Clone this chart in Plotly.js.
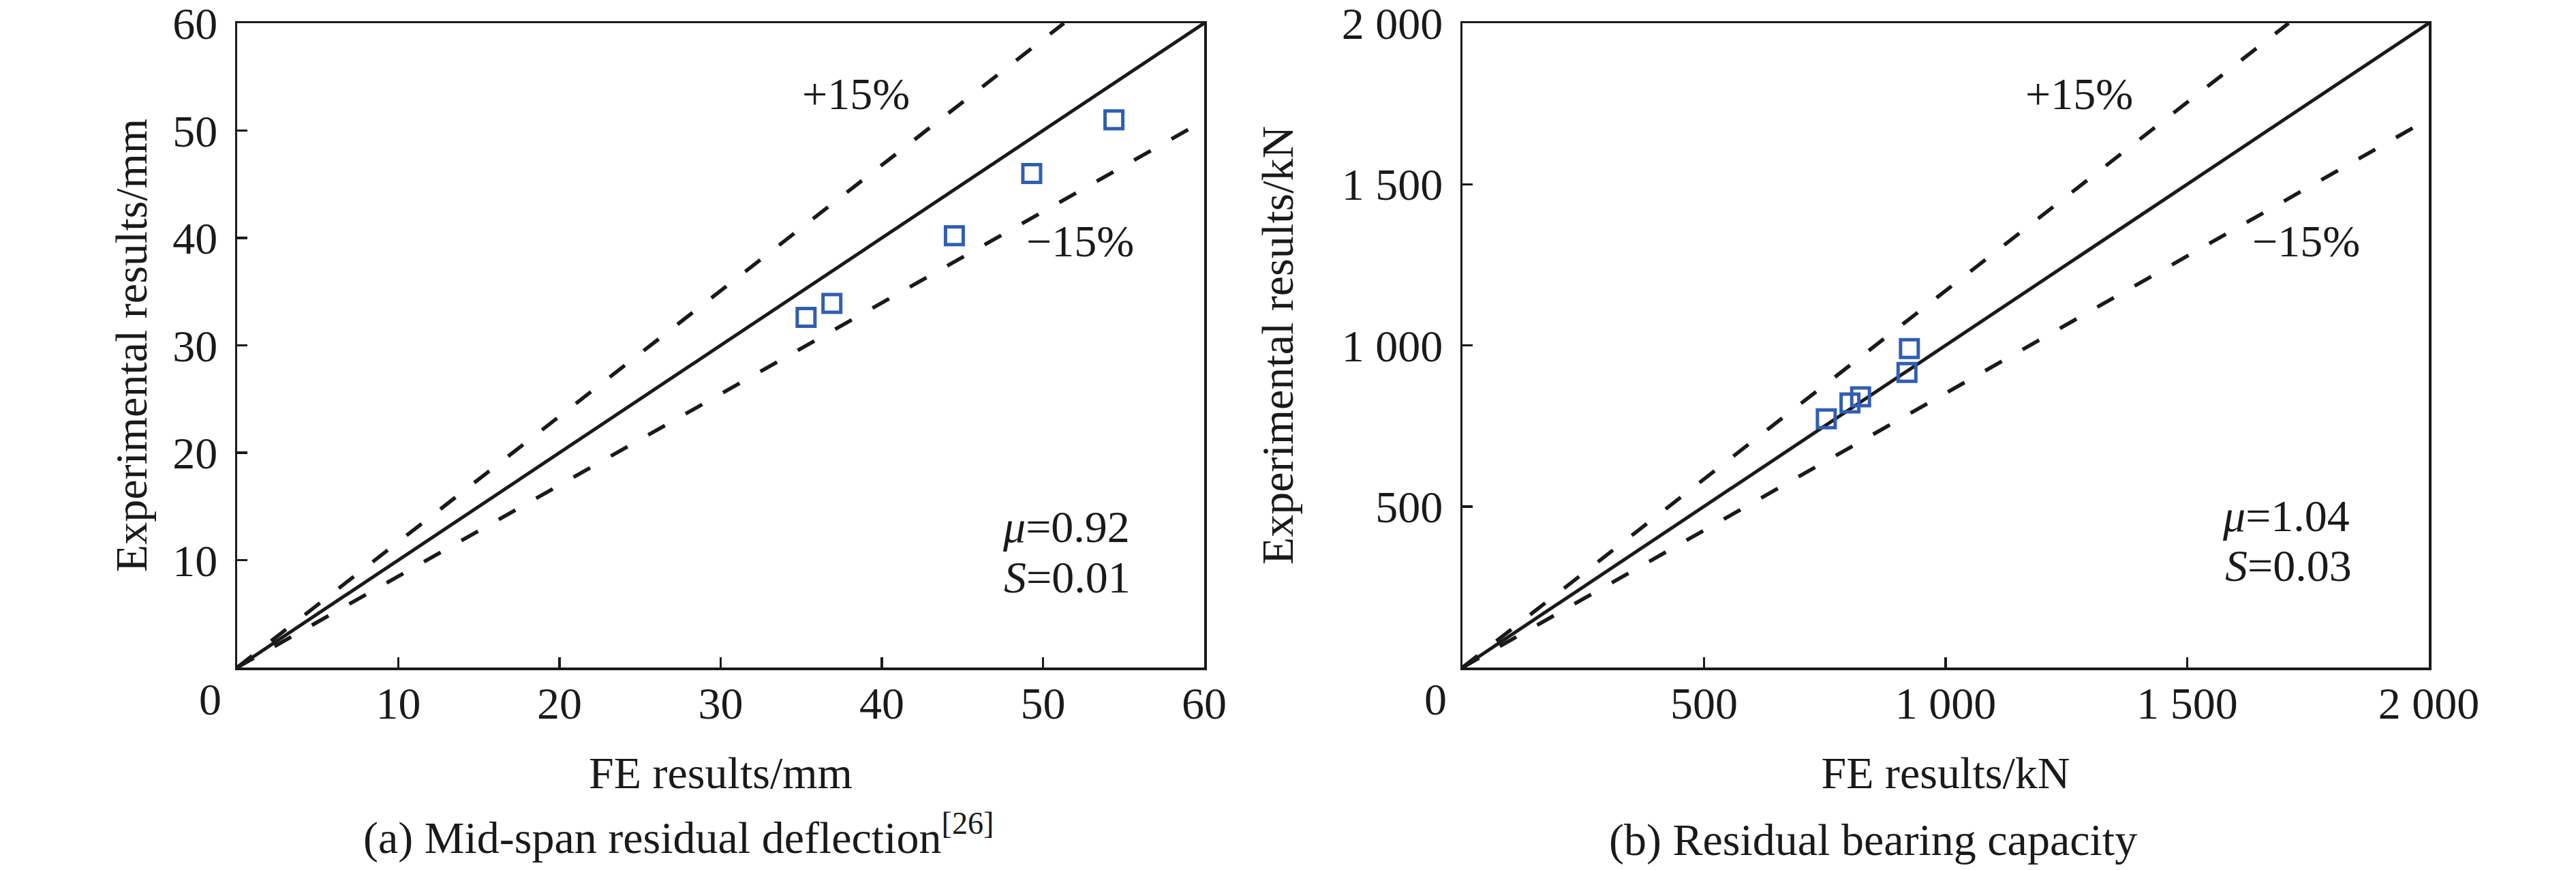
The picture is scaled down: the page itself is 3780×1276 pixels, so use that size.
<!DOCTYPE html>
<html>
<head>
<meta charset="utf-8">
<script src="https://cdn.plot.ly/plotly-3.0.1.min.js"></script>
<style>
  html, body { margin: 0; padding: 0; background: #fff; }
  #chart { width: 3780px; height: 1276px; }
</style>
</head>
<body>
<div id="chart"></div>
<script>
/******************** DATA ********************/
// (a) Mid-span residual deflection, mm
const feDeflection  = [35.3, 36.9, 44.5, 49.3, 54.4];
const expDeflection = [32.6, 33.9, 40.2, 46.0, 51.0];

// (b) Residual bearing capacity, kN
const feCapacity  = [753, 802, 824, 920, 925];
const expCapacity = [772, 821, 840, 916, 990];

// reference lines (1:1 and +/-15%), end points
const lineA     = { x: [0, 60],   y: [0, 60] };
const upperA    = { x: [0, 51.3], y: [0, 60] };
const lowerA    = { x: [0, 59.6], y: [0, 50.6] };
const lineB     = { x: [0, 2000], y: [0, 2000] };
const upperB    = { x: [0, 1710], y: [0, 2000] };
const lowerB    = { x: [0, 1985], y: [0, 1690] };

// tick labels
const ticksA      = [10, 20, 30, 40, 50, 60];
const tickTextA   = ["10", "20", "30", "40", "50", "60"];
const ticksB      = [500, 1000, 1500, 2000];
const tickTextB   = ["500", "1 000", "1 500", "2 000"];

/******************** STYLE ********************/
const FONT  = "Liberation Serif, Times New Roman, serif";
const INK   = "#1a1a1a";
const BLUE  = "#2f5fb3";
const FSIZE = 66;

function solid(line, xa, ya) {
  return { x: line.x, y: line.y, xaxis: xa, yaxis: ya, mode: "lines",
           line: { color: INK, width: 5 }, hoverinfo: "skip" };
}
function dashed(line, xa, ya) {
  return { x: line.x, y: line.y, xaxis: xa, yaxis: ya, mode: "lines",
           line: { color: INK, width: 5.5, dash: "28px,35px" }, hoverinfo: "skip" };
}
function points(xs, ys, xa, ya) {
  return { x: xs, y: ys, xaxis: xa, yaxis: ya, mode: "markers", type: "scatter",
           marker: { symbol: "square-open", size: 26, color: BLUE,
                     line: { color: BLUE, width: 5 } } };
}

function xAxis(domain, range, vals, text, title, anchor) {
  return {
    domain: domain, range: range, anchor: anchor,
    tickvals: vals, ticktext: text,
    ticks: "inside", ticklen: 15, tickwidth: 3.5, tickcolor: INK,
    ticklabelstandoff: -8, ticklabeloverflow: "allow",
    showline: true, linewidth: 3.5, linecolor: INK, mirror: true,
    showgrid: false, zeroline: false,
    tickfont: { family: FONT, size: FSIZE, color: INK },
    title: { text: title, standoff: 44, font: { family: FONT, size: FSIZE, color: INK } }
  };
}
function yAxis(domain, range, vals, text, title, anchor, standoff) {
  return {
    domain: domain, range: range, anchor: anchor,
    tickvals: vals, ticktext: text,
    ticks: "inside", ticklen: 15, tickwidth: 3.5, tickcolor: INK,
    ticklabelstandoff: 12, ticklabeloverflow: "allow",
    showline: true, linewidth: 3.5, linecolor: INK, mirror: true,
    showgrid: false, zeroline: false,
    tickfont: { family: FONT, size: FSIZE, color: INK },
    title: { text: title, standoff: standoff, font: { family: FONT, size: FSIZE, color: INK } }
  };
}

/******************** TRACES ********************/
const traces = [
  dashed(upperA, "x", "y"), dashed(lowerA, "x", "y"), solid(lineA, "x", "y"),
  points(feDeflection, expDeflection, "x", "y"),
  dashed(upperB, "x2", "y2"), dashed(lowerB, "x2", "y2"), solid(lineB, "x2", "y2"),
  points(feCapacity, expCapacity, "x2", "y2")
];

/******************** ANNOTATIONS ********************/
function note(text, x, y, xref, yref, anchor) {
  return { text: text, x: x, y: y, xref: xref, yref: yref, showarrow: false,
           xanchor: anchor || "center", yanchor: "middle",
           font: { family: FONT, size: FSIZE, color: INK } };
}

const annotations = [
  note("+15%", 38.4, 53.4, "x", "y"),
  note("\u221215%", 52.3, 39.7, "x", "y"),
  note("<i>\u03bc</i>=0.92", 47.4, 13.1, "x", "y", "left"),
  note("<i>S</i>=0.01", 47.5, 8.4, "x", "y", "left"),
  note("+15%", 1277, 1781, "x2", "y2"),
  note("\u221215%", 1746, 1324, "x2", "y2"),
  note("<i>\u03bc</i>=1.04", 1570, 471, "x2", "y2", "left"),
  note("<i>S</i>=0.03", 1575, 316, "x2", "y2", "left"),
  // shared origin labels
  note("0", 308 / 3780, (1276 - 1025) / 1276, "paper", "paper"),
  note("0", 2106 / 3780, (1276 - 1025) / 1276, "paper", "paper"),
  // sub-figure captions
  note("(a) Mid-span residual deflection<sup>[26]</sup>", 995 / 3780, 52 / 1276, "paper", "paper"),
  note("(b) Residual bearing capacity", 2748 / 3780, 44 / 1276, "paper", "paper")
];

/******************** LAYOUT ********************/
const yDomain = [297 / 1276, 1242 / 1276];

const layout = {
  width: 3780, height: 1276,
  margin: { l: 0, r: 0, t: 0, b: 0 },
  paper_bgcolor: "#fff", plot_bgcolor: "#fff",
  showlegend: false,
  font: { family: FONT, size: FSIZE, color: INK },
  xaxis:  xAxis([348 / 3780, 1767 / 3780], [0, 60], ticksA, tickTextA, "FE results/mm", "y"),
  yaxis:  yAxis(yDomain, [0, 60], ticksA, tickTextA, "Experimental results/mm", "x", 17),
  xaxis2: xAxis([2146 / 3780, 3564 / 3780], [0, 2000], ticksB, tickTextB, "FE results/kN", "y2"),
  yaxis2: yAxis(yDomain, [0, 2000], ticksB, tickTextB, "Experimental results/kN", "x2", 50),
  annotations: annotations
};

Plotly.newPlot("chart", traces, layout, { displayModeBar: false, staticPlot: true });
</script>
</body>
</html>
